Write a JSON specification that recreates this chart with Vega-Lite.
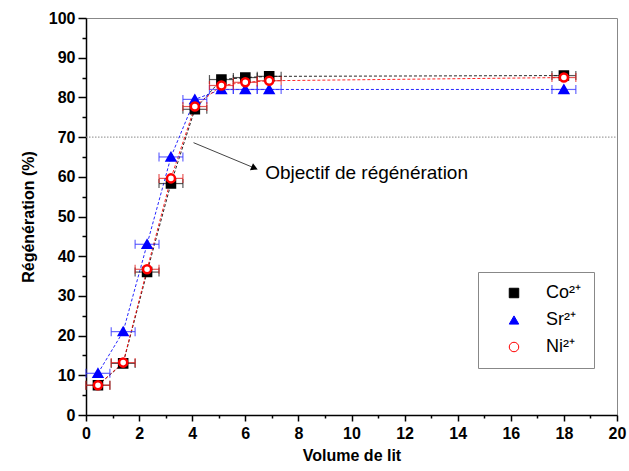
{
  "$schema": "https://vega.github.io/schema/vega-lite/v6.json",
  "width": 531,
  "height": 397,
  "autosize": {"type": "none"},
  "padding": {"left": 86, "top": 18, "right": 12, "bottom": 56},
  "background": "white",
  "config": {
    "view": {"stroke": "#888888", "strokeWidth": 1},
    "font": "Liberation Sans",
    "axis": {
      "labelFont": "Liberation Sans", "titleFont": "Liberation Sans",
      "labelFontSize": 16, "labelFontWeight": "bold", "labelColor": "black",
      "titleFontSize": 16, "titleFontWeight": "bold", "titleColor": "black",
      "domainColor": "black", "domainWidth": 1.5, "tickColor": "black", "tickWidth": 1.5,
      "grid": false
    },
    "legend": {
      "orient": "none", "legendX": 392, "legendY": 254, "strokeColor": "#888888", "padding": 12, "fillColor": "white",
      "labelFontSize": 18, "labelFont": "Liberation Sans", "labelColor": "black", "rowPadding": 9, "symbolSize": 90, "symbolOffset": 15, "labelOffset": 23
    }
  },
  "resolve": {"axis": {"x": "independent", "y": "independent"}},
  "data": {
    "values": [
      {"ion": "Co²⁺", "vol": 0.45, "reg": 7.5, "err": 0.45},
      {"ion": "Co²⁺", "vol": 1.4, "reg": 13.0, "err": 0.45},
      {"ion": "Co²⁺", "vol": 2.3, "reg": 36.0, "err": 0.45},
      {"ion": "Co²⁺", "vol": 3.2, "reg": 58.3, "err": 0.45},
      {"ion": "Co²⁺", "vol": 4.1, "reg": 77.0, "err": 0.45},
      {"ion": "Co²⁺", "vol": 5.1, "reg": 84.5, "err": 0.45},
      {"ion": "Co²⁺", "vol": 6.0, "reg": 85.0, "err": 0.45},
      {"ion": "Co²⁺", "vol": 6.9, "reg": 85.3, "err": 0.45},
      {"ion": "Co²⁺", "vol": 18.0, "reg": 85.5, "err": 0.45},
      {"ion": "Sr²⁺", "vol": 0.45, "reg": 10.5, "err": 0.45},
      {"ion": "Sr²⁺", "vol": 1.4, "reg": 21.0, "err": 0.45},
      {"ion": "Sr²⁺", "vol": 2.3, "reg": 43.0, "err": 0.45},
      {"ion": "Sr²⁺", "vol": 3.2, "reg": 65.0, "err": 0.45},
      {"ion": "Sr²⁺", "vol": 4.1, "reg": 79.5, "err": 0.45},
      {"ion": "Sr²⁺", "vol": 5.1, "reg": 82.0, "err": 0.45},
      {"ion": "Sr²⁺", "vol": 6.0, "reg": 82.0, "err": 0.45},
      {"ion": "Sr²⁺", "vol": 6.9, "reg": 82.0, "err": 0.45},
      {"ion": "Sr²⁺", "vol": 18.0, "reg": 82.0, "err": 0.45},
      {"ion": "Ni²⁺", "vol": 0.45, "reg": 7.5, "err": 0.45},
      {"ion": "Ni²⁺", "vol": 1.4, "reg": 13.2, "err": 0.45},
      {"ion": "Ni²⁺", "vol": 2.3, "reg": 36.7, "err": 0.45},
      {"ion": "Ni²⁺", "vol": 3.2, "reg": 59.6, "err": 0.45},
      {"ion": "Ni²⁺", "vol": 4.1, "reg": 77.7, "err": 0.45},
      {"ion": "Ni²⁺", "vol": 5.1, "reg": 83.0, "err": 0.45},
      {"ion": "Ni²⁺", "vol": 6.0, "reg": 83.8, "err": 0.45},
      {"ion": "Ni²⁺", "vol": 6.9, "reg": 84.2, "err": 0.45},
      {"ion": "Ni²⁺", "vol": 18.0, "reg": 85.0, "err": 0.45}
    ]
  },
  "layer": [
    {
      "data": {"values": [{}]},
      "mark": {"type": "rule", "stroke": "#888888", "strokeDash": [1.5, 1.5], "strokeWidth": 1},
      "encoding": {
        "x": {"datum": 0, "type": "quantitative", "scale": {"domain": [0, 20], "nice": false}, "axis": null},
        "x2": {"datum": 20},
        "y": {"datum": 70, "type": "quantitative", "scale": {"domain": [0, 100], "nice": false}, "axis": null}
      }
    },
    {
      "mark": {"type": "line", "strokeDash": [3, 2], "strokeWidth": 1, "opacity": 0.85},
      "encoding": {
        "x": {"field": "vol", "type": "quantitative",
          "axis": {"orient": "bottom", "values": [0, 1, 2, 3, 4, 5, 6, 7, 8, 9, 10, 11, 12, 13, 14, 15, 16, 17, 18, 19, 20],
            "labelExpr": "datum.value % 2 === 0 ? datum.label : ''",
            "tickSize": {"condition": {"test": "datum.value % 2 === 0", "value": 6}, "value": 3},
            "title": "Volume de lit", "labelPadding": 4, "titlePadding": 6, "labelFlush": false, "labelOverlap": false}},
        "y": {"field": "reg", "type": "quantitative",
          "axis": {"orient": "left", "values": [0, 5, 10, 15, 20, 25, 30, 35, 40, 45, 50, 55, 60, 65, 70, 75, 80, 85, 90, 95, 100],
            "labelExpr": "datum.value % 10 === 0 ? datum.label : ''",
            "tickSize": {"condition": {"test": "datum.value % 10 === 0", "value": 8}, "value": 4},
            "title": "Régénération (%)", "labelPadding": 3, "titlePadding": 12, "labelFlush": false, "labelOverlap": false}},
        "stroke": {"field": "ion", "type": "nominal", "scale": {"domain": ["Co²⁺", "Sr²⁺", "Ni²⁺"], "range": ["#000000", "#0000ff", "#ff0000"]},
          "legend": {"title": null, "encoding": {"symbols": {
            "shape": {"value": {"expr": "(datum.value === 'Co²⁺' ? 'M-1,-1H1V1H-1Z' : datum.value === 'Sr²⁺' ? 'M0,-1.3L1.25,0.9H-1.25Z' : 'M1,0A1,1,0,1,1,-1,0A1,1,0,1,1,1,0ZM0.45,0A0.45,0.45,0,1,0,-0.45,0A0.45,0.45,0,1,0,0.45,0Z') + 'M-4.2,0h0.6M-3.2,0h0.6M-2.2,0h0.6M1.6,0h0.6M2.6,0h0.6M3.6,0h0.6'"}},
            "fill": {"value": {"expr": "datum.value === 'Co²⁺' ? '#000000' : datum.value === 'Sr²⁺' ? '#0000ff' : '#ff0000'"}},
            "stroke": {"value": {"expr": "datum.value === 'Co²⁺' ? '#555555' : datum.value === 'Sr²⁺' ? '#4444ff' : '#ff4444'"}},
            "strokeWidth": {"value": 1},
            "strokeDash": {"value": []},
            "opacity": {"value": 1}
          }}}}
      }
    },
    {
      "transform": [{"filter": "datum.ion === 'Co²⁺'"}],
      "mark": {"type": "errorbar", "ticks": {"size": 9}, "thickness": 1.2, "opacity": 0.75, "color": "#222222"},
      "encoding": {
        "x": {"field": "vol", "type": "quantitative", "axis": null},
        "xError": {"field": "err"},
        "y": {"field": "reg", "type": "quantitative", "axis": null}
      }
    },
    {
      "transform": [{"filter": "datum.ion === 'Sr²⁺'"}],
      "mark": {"type": "errorbar", "ticks": {"size": 9}, "thickness": 1.2, "opacity": 0.75, "color": "#3333ff"},
      "encoding": {
        "x": {"field": "vol", "type": "quantitative", "axis": null},
        "xError": {"field": "err"},
        "y": {"field": "reg", "type": "quantitative", "axis": null}
      }
    },
    {
      "transform": [{"filter": "datum.ion === 'Ni²⁺'"}],
      "mark": {"type": "errorbar", "ticks": {"size": 9}, "thickness": 1.2, "opacity": 0.75, "color": "#e02020"},
      "encoding": {
        "x": {"field": "vol", "type": "quantitative", "axis": null},
        "xError": {"field": "err"},
        "y": {"field": "reg", "type": "quantitative", "axis": null}
      }
    },
    {
      "mark": {"type": "point", "filled": false, "opacity": 1, "strokeWidth": 2.5, "size": 65},
      "encoding": {
        "x": {"field": "vol", "type": "quantitative", "axis": null},
        "y": {"field": "reg", "type": "quantitative", "axis": null},
        "shape": {"field": "ion", "type": "nominal", "scale": {"domain": ["Co²⁺", "Sr²⁺", "Ni²⁺"], "range": ["square", "triangle-up", "circle"]}, "legend": null},
        "fill": {"field": "ion", "type": "nominal", "scale": {"domain": ["Co²⁺", "Sr²⁺", "Ni²⁺"], "range": ["#000000", "#0000ff", "#ffffff"]}, "legend": null},
        "stroke": {"field": "ion", "type": "nominal"}
      }
    },
    {
      "data": {"values": [{}]},
      "mark": {"type": "rule", "stroke": "#444444", "strokeWidth": 1},
      "encoding": {
        "x": {"datum": 4.05, "type": "quantitative", "axis": null},
        "y": {"datum": 68.6, "type": "quantitative", "axis": null},
        "x2": {"datum": 6.35},
        "y2": {"datum": 62.2}
      }
    },
    {
      "data": {"values": [{}]},
      "mark": {"type": "point", "shape": "triangle-right", "filled": true, "fill": "black", "strokeWidth": 0, "size": 60, "angle": 23, "opacity": 1},
      "encoding": {
        "x": {"datum": 6.35, "type": "quantitative", "axis": null},
        "y": {"datum": 62.2, "type": "quantitative", "axis": null}
      }
    },
    {
      "data": {"values": [{}]},
      "mark": {"type": "text", "align": "left", "baseline": "middle", "fontSize": 19, "font": "Liberation Sans", "fill": "black", "text": "Objectif de régénération"},
      "encoding": {
        "x": {"datum": 6.75, "type": "quantitative", "axis": null},
        "y": {"datum": 61.0, "type": "quantitative", "axis": null}
      }
    }
  ]
}
